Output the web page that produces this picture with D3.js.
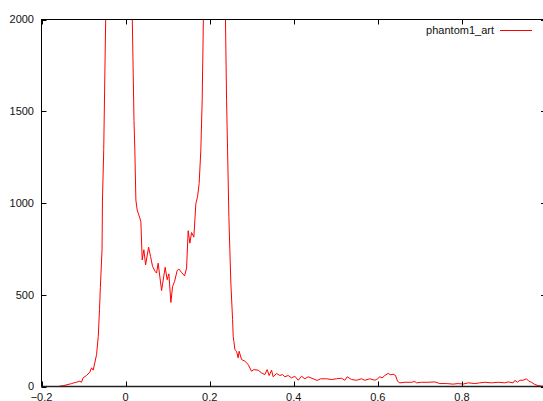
<!DOCTYPE html>
<html>
<head>
<meta charset="utf-8">
<script src="https://cdn.jsdelivr.net/npm/d3@7"></script>
<style>
  body { margin: 0; background: #fff; }
  svg { display: block; }
  text { font-family: "Liberation Sans", Arial, sans-serif; font-size: 11px; fill: #111; }
</style>
</head>
<body>
<script>
// series: phantom1_art
const xs = [-0.158, -0.156, -0.147, -0.137, -0.128, -0.123, -0.117, -0.109, -0.105, -0.101,
  -0.093, -0.085, -0.081, -0.077, -0.069, -0.065, -0.062, -0.060, -0.056, -0.055,
  -0.052, -0.050, -0.047, -0.044, -0.035, -0.025, -0.015, -0.005, 0.005, 0.010,
  0.016, 0.020, 0.022, 0.0245, 0.0276, 0.034, 0.0364, 0.0395, 0.0435, 0.0476,
  0.0547, 0.0595, 0.0642, 0.0704, 0.0737, 0.0775, 0.0856, 0.0942, 0.0989, 0.103,
  0.1077, 0.1118, 0.1165, 0.1227, 0.1268, 0.1332, 0.1403, 0.1451, 0.1489, 0.1529,
  0.157, 0.1624, 0.1672, 0.1712, 0.175, 0.179, 0.1822, 0.185, 0.19, 0.20,
  0.21, 0.22, 0.2373, 0.2402, 0.2426, 0.2457, 0.248, 0.2504, 0.2545, 0.256,
  0.2576, 0.26, 0.264, 0.2678, 0.2701, 0.2759, 0.2837, 0.2916, 0.2996, 0.3051,
  0.3153, 0.3234, 0.3313, 0.3367, 0.3415, 0.3472, 0.351, 0.3591, 0.367, 0.3734,
  0.3788, 0.3867, 0.3948, 0.4026, 0.4105, 0.4185, 0.4264, 0.4342, 0.4461, 0.4556,
  0.4637, 0.478, 0.4899, 0.5018, 0.5137, 0.5215, 0.527, 0.5375, 0.5493, 0.5612,
  0.5691, 0.581, 0.5929, 0.5993, 0.6048, 0.6102, 0.6166, 0.6245, 0.6309, 0.6364,
  0.6421, 0.6468, 0.6523, 0.6642, 0.6801, 0.688, 0.692, 0.7039, 0.7196, 0.7356,
  0.7474, 0.7634, 0.7791, 0.791, 0.8029, 0.8147, 0.8307, 0.8426, 0.8545, 0.8704,
  0.8861, 0.902, 0.9099, 0.9218, 0.9258, 0.9322, 0.9377, 0.9455, 0.9536, 0.9591,
  0.9655, 0.9733, 0.9812, 0.9893, 1.0];
const ys = [0, 2, 5, 11, 16, 20, 23, 29, 23, 47,
  60, 78, 102, 89, 174, 273, 420, 540, 745, 1016,
  1290, 1600, 2050, 2600, 3200, 3500, 3400, 3100, 2700, 2400,
  2000, 1450, 1288, 1016, 962, 917, 898, 690, 745, 663,
  759, 708, 654, 627, 618, 672, 523, 650, 582, 614,
  458, 545, 572, 632, 640, 621, 603, 645, 849, 781,
  839, 814, 998, 1034, 1107, 1288, 1560, 2000, 2800, 3300,
  3200, 2600, 2050, 1560, 1288, 925, 745, 564, 364, 273,
  246, 201, 192, 156, 192, 147, 138, 120, 83, 92,
  89, 74, 65, 92, 60, 89, 53, 71, 60, 65,
  53, 60, 47, 56, 34, 56, 42, 53, 42, 33,
  42, 42, 38, 42, 45, 34, 53, 38, 34, 42,
  34, 42, 34, 42, 53, 47, 60, 71, 64, 67,
  60, 29, 20, 23, 23, 27, 20, 23, 23, 25,
  16, 16, 13, 16, 13, 20, 16, 20, 23, 20,
  23, 20, 25, 20, 33, 23, 34, 34, 42, 29,
  23, 11, 5, 2, 0];
const seriesName = "phantom1_art";
const xTicks = [-0.2, 0, 0.2, 0.4, 0.6, 0.8, 1];
const yTicks = [0, 500, 1000, 1500, 2000];

const W = 543, H = 401;
const mLeft = 41.5, mRight = 546, mTop = 19.5, mBottom = 386.5;

const svg = d3.select("body").append("svg")
  .attr("width", W).attr("height", H)
  .style("overflow", "hidden");

const x = d3.scaleLinear().domain([-0.2, 1]).range([mLeft, mRight]);
const y = d3.scaleLinear().domain([0, 2000]).range([mBottom, mTop]);

svg.append("clipPath").attr("id", "plot")
  .append("rect").attr("x", mLeft).attr("y", mTop)
  .attr("width", mRight - mLeft).attr("height", mBottom - mTop);

// curve
const pts = xs.map((v, i) => [v, ys[i]]);
svg.append("path")
  .datum(pts)
  .attr("clip-path", "url(#plot)")
  .attr("fill", "none")
  .attr("stroke", "#ff0000")
  .attr("stroke-width", 1)
  .attr("d", d3.line().x(d => x(d[0])).y(d => y(d[1])));

// border
svg.append("rect")
  .attr("x", mLeft).attr("y", mTop)
  .attr("width", mRight - mLeft).attr("height", mBottom - mTop)
  .attr("fill", "none").attr("stroke", "#000").attr("stroke-width", 1);
svg.append("line")
  .attr("x1", mLeft).attr("x2", mRight).attr("y1", mBottom).attr("y2", mBottom)
  .attr("stroke", "#222").attr("stroke-width", 1.6);

const tl = 5;
// x ticks (bottom + mirrored top)
xTicks.forEach(t => {
  const px = Math.round(x(t)) + 0.5;
  svg.append("line").attr("x1", px).attr("x2", px).attr("y1", mBottom).attr("y2", mBottom - tl).attr("stroke", "#000");
  svg.append("line").attr("x1", px).attr("x2", px).attr("y1", mTop).attr("y2", mTop + tl).attr("stroke", "#000");
  svg.append("text").attr("x", x(t)).attr("y", mBottom + 14.5)
    .attr("text-anchor", "middle")
    .text(t === 0 ? "0" : d3.format("")(t));
});

// y ticks (left + mirrored right)
yTicks.forEach(t => {
  const py = Math.round(y(t)) + 0.5;
  svg.append("line").attr("x1", mLeft).attr("x2", mLeft + tl).attr("y1", py).attr("y2", py).attr("stroke", "#000");
  svg.append("line").attr("x1", mRight).attr("x2", mRight - tl).attr("y1", py).attr("y2", py).attr("stroke", "#000");
  svg.append("text").attr("x", mLeft - 7.5).attr("y", y(t)).attr("dy", "0.35em")
    .attr("text-anchor", "end").text(t);
});

// legend
svg.append("text").attr("x", 494).attr("y", 30.5).attr("dy", "0.35em")
  .attr("text-anchor", "end").text(seriesName);
svg.append("line").attr("x1", 500).attr("x2", 532).attr("y1", 30.5).attr("y2", 30.5)
  .attr("stroke", "#ff0000").attr("stroke-width", 1);
</script>
</body>
</html>
